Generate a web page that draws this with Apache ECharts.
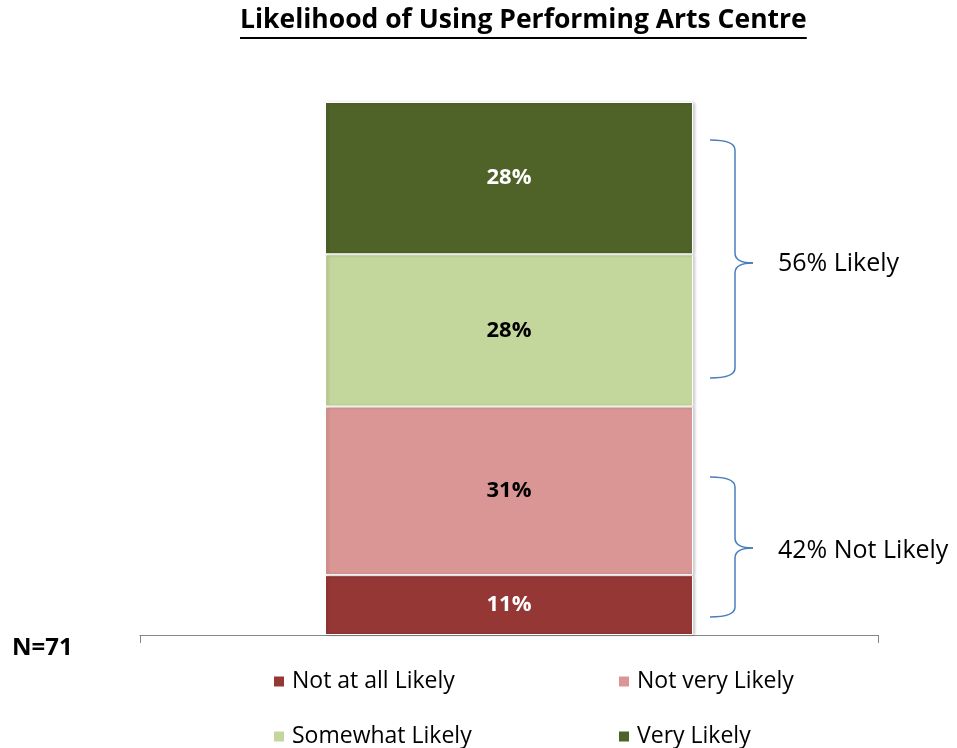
<!DOCTYPE html>
<html>
<head>
<meta charset="utf-8">
<script src="https://cdn.jsdelivr.net/npm/echarts@6/dist/echarts.min.js"></script>
<style>html,body{margin:0;padding:0;background:#fff}#c{width:957px;height:748px}</style>
</head>
<body>
<div id="c"></div>
<script>
const categories = ['Total'];
const seriesNames = ['Not at all Likely', 'Not very Likely', 'Somewhat Likely', 'Very Likely'];
const notAtAll = [11];
const notVery = [31];
const somewhat = [28];
const very = [28];
const groupLabels = ['56% Likely', '42% Not Likely'];
const titleText = 'Likelihood of Using Performing Arts Centre';
const sampleText = 'N=71';

const colors = ['#953735', '#D99694', '#C3D69B', '#4F6228'];
const labelColors = ['#fff', '#000', '#000', '#fff'];
const values = [notAtAll, notVery, somewhat, very];
const FONT = 'Open Sans';

const chart = echarts.init(document.getElementById('c'), null, {renderer: 'canvas'});

const series = seriesNames.map((n, i) => ({
  name: n, type: 'bar', stack: 'all', data: values[i], barWidth: 368,
  itemStyle: {color: colors[i], borderColor: '#fff', borderWidth: 1,
    shadowColor: 'rgba(0,0,0,0.2)', shadowBlur: 3, shadowOffsetX: 2, shadowOffsetY: 0},
  label: {show: true, position: 'inside', formatter: '{c}%', color: labelColors[i],
    fontFamily: FONT, fontWeight: 'bold', fontSize: 22},
  emphasis: {disabled: true}
}));

const legendPos = [[272, 670], [617, 670], [272, 725], [617, 725]];
const legends = seriesNames.map((n, i) => ({
  data: [n], left: legendPos[i][0], top: legendPos[i][1], itemWidth: 12, itemHeight: 12,
  itemGap: 0, icon: 'rect', selectedMode: false, padding: 0,
  textStyle: {fontFamily: FONT, fontSize: 23, color: '#000', padding: [0, 0, 0, 2]}
}));

chart.setOption({
  animation: false,
  title: {text: titleText, left: 240, top: 7, padding: 0,
    textStyle: {fontFamily: FONT, fontWeight: 'bold', fontSize: 26.5, color: '#000'}},
  legend: legends,
  grid: {left: 140, right: 79, top: 102, bottom: 113},
  xAxis: {type: 'category', data: categories,
    axisLine: {lineStyle: {color: '#868686', width: 1}},
    axisTick: {show: true, length: 8, inside: false, lineStyle: {color: '#868686'}},
    axisLabel: {show: false}},
  yAxis: {type: 'value', min: 0, max: 98, show: false, splitLine: {show: false}},
  series: series
});

// annotations
const ctx = document.createElement('canvas').getContext('2d');
ctx.font = 'bold 26.5px "' + FONT + '"';
const tw = ctx.measureText(titleText).width;

const braceStyle = {stroke: '#4A7EBB', lineWidth: 1.5, fill: null};
function brace(x0, xm, xt, yTop, yTip, yBot) {
  const r = 10;
  const els = [
    {type: 'bezierCurve', shape: {x1: x0, y1: yTop, cpx1: xm, cpy1: yTop, x2: xm, y2: yTop + r}},
    {type: 'line', shape: {x1: xm, y1: yTop + r, x2: xm, y2: yTip - r}},
    {type: 'bezierCurve', shape: {x1: xm, y1: yTip - r, cpx1: xm, cpy1: yTip, x2: xt, y2: yTip}},
    {type: 'bezierCurve', shape: {x1: xt, y1: yTip, cpx1: xm, cpy1: yTip, x2: xm, y2: yTip + r}},
    {type: 'line', shape: {x1: xm, y1: yTip + r, x2: xm, y2: yBot - r}},
    {type: 'bezierCurve', shape: {x1: xm, y1: yBot - r, cpx1: xm, cpy1: yBot, x2: x0, y2: yBot}}
  ];
  els.forEach(e => { e.style = braceStyle; });
  return els;
}

chart.setOption({
  graphic: [
    {type: 'line', shape: {x1: 240, y1: 38, x2: 240 + tw, y2: 38}, style: {stroke: '#000', lineWidth: 2}},
    ...brace(710, 735, 753, 140, 263, 378),
    ...brace(710, 735, 753, 477, 548, 617),
    {type: 'text', x: 778, y: 264, style: {text: groupLabels[0], font: '25px "' + FONT + '"', fill: '#000', verticalAlign: 'middle'}},
    {type: 'text', x: 778, y: 551, style: {text: groupLabels[1], font: '25px "' + FONT + '"', fill: '#000', verticalAlign: 'middle'}},
    {type: 'text', x: 12, y: 648, style: {text: sampleText, font: 'bold 24px "' + FONT + '"', fill: '#000', verticalAlign: 'middle'}}
  ]
});
</script>
</body>
</html>
